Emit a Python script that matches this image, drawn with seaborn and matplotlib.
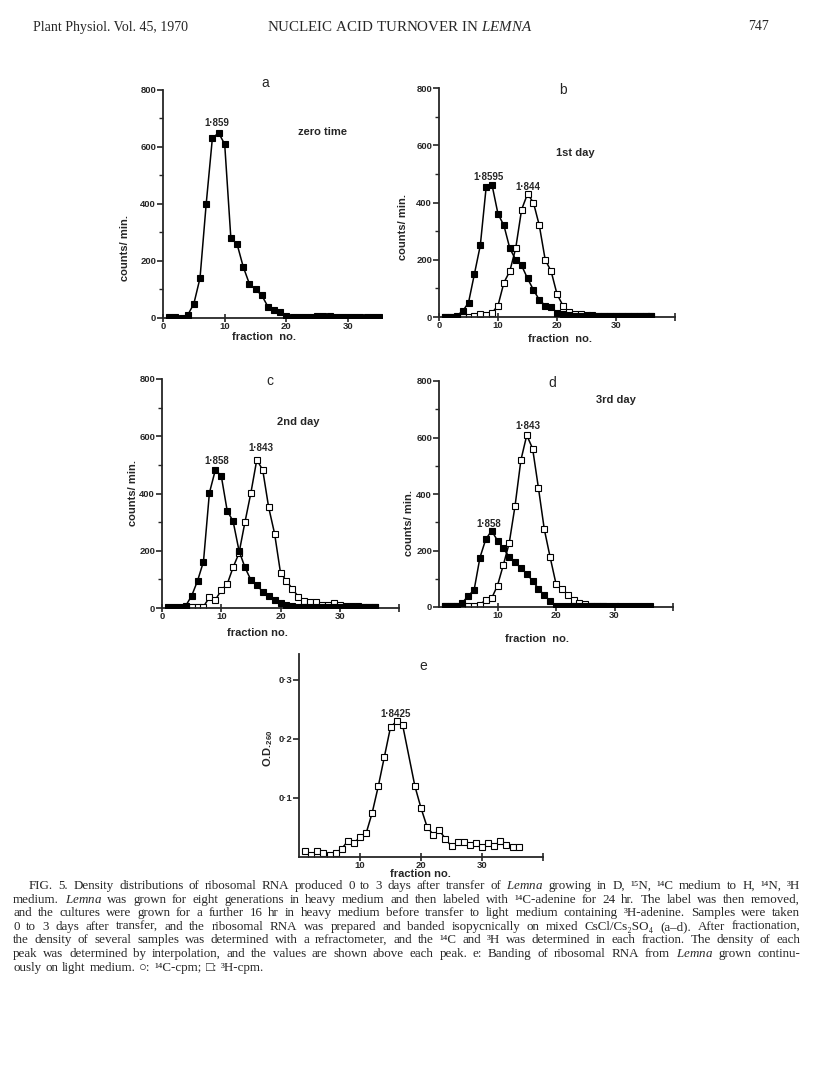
import numpy as np
import pandas as pd
import matplotlib
matplotlib.use("Agg")
import matplotlib.pyplot as plt
import seaborn as sns

sns.set_style("ticks")
plt.rcParams['font.family'] = ['Liberation Sans', 'DejaVu Sans']
plt.rcParams['mathtext.fontset'] = 'custom'
plt.rcParams['mathtext.rm'] = 'Liberation Serif'
plt.rcParams['mathtext.it'] = 'Liberation Serif:italic'
plt.rcParams['mathtext.bf'] = 'Liberation Sans:bold'

# ---- data ----
# panel a (zero time), 14C only
frac_a = list(range(1, 36))
a_c14 = [5, 5, 0, 10, 50, 140, 400, 630, 650, 610, 280, 260, 180, 120, 100, 80, 40, 28, 20, 8,
         5, 5, 5, 5, 6, 6, 6, 5, 5, 5, 5, 5, 5, 5, 5]

# panel b (1st day)
frac_b = list(range(1, 37))
b_c14 = [0, 0, 5, 20, 50, 150, 250, 455, 460, 360, 320, 240, 200, 180, 135, 95, 60, 40, 35, 15,
         10, 8, 5, 5, 5, 5, 5, 5, 5, 5, 5, 5, 5, 5, 5, 5]
b_h3 = [0, 0, 0, 0, 0, 5, 12, 8, 15, 40, 120, 160, 240, 375, 430, 400, 320, 200, 160, 80,
        40, 18, 12, 10, 8, 6, 5, 5, 5, 5, 5, 5, 5, 5, 5, 5]

# panel c (2nd day)
frac_c = list(range(1, 37))
c_c14 = [5, 5, 5, 8, 42, 95, 162, 402, 482, 462, 340, 303, 200, 142, 98, 80, 57, 43, 28, 17,
         10, 8, 5, 5, 5, 5, 5, 5, 5, 5, 5, 5, 5, 5, 5, 5]
frac_c3 = list(range(5, 37))
c_h3 = [5, 5, 5, 37, 28, 62, 83, 142, 192, 300, 402, 518, 482, 352, 260, 123, 95, 67, 40, 26,
        22, 20, 12, 10, 18, 10, 8, 6, 6, 5, 5, 5]

# panel d (3rd day)
frac_d = list(range(1, 37))
d_c14 = [5, 3, 5, 15, 40, 60, 175, 240, 270, 235, 208, 177, 158, 138, 118, 92, 65, 41, 22, 5,
         5, 4, 4, 4, 4, 4, 4, 4, 4, 4, 4, 4, 4, 4, 4, 4]
frac_d3 = list(range(1, 29))
d_h3 = [3, 3, 3, 2, 2, 2, 8, 26, 31, 76, 149, 226, 358, 520, 608, 561, 421, 275, 176, 82,
        65, 44, 24, 14, 11, 5, 4, 3]

# panel e, O.D.260
frac_e = list(range(1, 18)) + list(range(19, 37))
e_od = [0.010, 0.004, 0.010, 0.006, 0.004, 0.007, 0.014, 0.027, 0.023, 0.034, 0.040, 0.075,
        0.120, 0.170, 0.220, 0.230, 0.223, 0.120, 0.083, 0.051, 0.038, 0.045, 0.031, 0.018,
        0.025, 0.025, 0.021, 0.023, 0.017, 0.023, 0.019, 0.027, 0.020, 0.017, 0.017]

W, H = 816, 1078
fig = plt.figure(figsize=(W / 100, H / 100), dpi=100)
fig.patch.set_facecolor('white')

TICK = dict(fontsize=6.8, fontweight='bold')
BOLD = dict(fontsize=7, fontweight='bold')
LAB = dict(fontsize=8, fontweight='bold')


def px_axes(x0, x1, ytop, ybot):
    return fig.add_axes([x0 / W, 1 - ybot / H, (x1 - x0) / W, (ybot - ytop) / H])


def ftext(x, y, s, **kw):
    fig.text(x / W, 1 - y / H, s, ha='center', va='center', **kw)


def style_axes(ax, xmax, xticks, ymax=800, yticks=(0, 200, 400, 600, 800), ylabels=None,
               yminor=None, xlabels=None):
    ax.set_xlim(0, xmax)
    ax.set_ylim(0, ymax)
    ax.set_facecolor('none')
    sns.despine(ax=ax)
    for s in ('left', 'bottom'):
        ax.spines[s].set_linewidth(1.3)
    ax.set_xticks(xticks)
    ax.set_xticklabels(xlabels if xlabels is not None else [str(t) for t in xticks], **TICK)
    ax.set_yticks(yticks)
    ax.set_yticklabels(ylabels if ylabels is not None else [str(t) for t in yticks], **TICK)
    if yminor is not None:
        ax.set_yticks(yminor, minor=True)
    ax.tick_params(axis='x', direction='inout', length=6, width=1.2, pad=0)
    ax.tick_params(axis='y', which='major', direction='out', length=4, width=1.2, pad=1)
    ax.tick_params(axis='y', which='minor', direction='out', length=3, width=1.0)
    ax.set_xlabel('')
    ax.set_ylabel('')


def draw(ax, x, y, filled):
    fc = 'black' if filled else 'white'
    sns.lineplot(x=x, y=y, ax=ax, color='black', lw=1.1, marker='s', markersize=3.9,
                 markerfacecolor=fc, markeredgecolor='black', markeredgewidth=0.8,
                 errorbar=None, sort=False, zorder=3 if filled else 2)


cnt_minor = [100, 300, 500, 700]

# ---- panel a ----
ax = px_axes(163, 382, 90, 318)
draw(ax, frac_a, a_c14, True)
style_axes(ax, 35.5, [0, 10, 20, 30], yminor=cnt_minor)
ftext(265, 83, 'a', fontsize=10)
ftext(217, 123, '1·859', **BOLD)
ftext(322, 132, 'zero time', **LAB)
ftext(125, 248, 'counts/ min.', rotation=90, **LAB)
ftext(264, 337, 'fraction  no.', **LAB)

# ---- panel b ----
ax = px_axes(439, 675, 88, 317)
draw(ax, frac_b, b_h3, False)
draw(ax, frac_b, b_c14, True)
style_axes(ax, 40, [0, 10, 20, 30, 40], xlabels=['0', '10', '20', '30', ''], yminor=cnt_minor)
ftext(563, 90, 'b', fontsize=10)
ftext(575, 153, '1st day', **LAB)
ftext(488, 177, '1·8595', **BOLD)
ftext(528, 187, '1·844', **BOLD)
ftext(403, 227, 'counts/ min.', rotation=90, **LAB)
ftext(560, 339, 'fraction  no.', **LAB)

# ---- panel c ----
ax = px_axes(162, 399, 379, 608)
draw(ax, frac_c3, c_h3, False)
draw(ax, frac_c, c_c14, True)
style_axes(ax, 40, [0, 10, 20, 30, 40], xlabels=['0', '10', '20', '30', ''], yminor=cnt_minor)
ftext(270, 381, 'c', fontsize=10)
ftext(298, 422, '2nd day', **LAB)
ftext(261, 448, '1·843', **BOLD)
ftext(217, 461, '1·858', **BOLD)
ftext(133, 493, 'counts/ min.', rotation=90, **LAB)
ftext(257, 633, 'fraction no.', **LAB)

# ---- panel d ----
ax = px_axes(439, 673, 381, 607)
draw(ax, frac_d3, d_h3, False)
draw(ax, frac_d, d_c14, True)
style_axes(ax, 40, [10, 20, 30, 40], xlabels=['10', '20', '30', ''], yminor=cnt_minor)
ftext(552, 383, 'd', fontsize=10)
ftext(616, 400, '3rd day', **LAB)
ftext(528, 426, '1·843', **BOLD)
ftext(489, 524, '1·858', **BOLD)
ftext(409, 523, 'counts/ min.', rotation=90, **LAB)
ftext(537, 639, 'fraction  no.', **LAB)

# ---- panel e ----
ax = px_axes(299, 543, 654, 857)
draw(ax, frac_e, e_od, False)
style_axes(ax, 40, [10, 20, 30, 40], xlabels=['10', '20', '30', ''], ymax=0.344,
           yticks=[0.1, 0.2, 0.3], ylabels=['0·1', '0·2', '0·3'])
ftext(423, 666, 'e', fontsize=10)
ftext(396, 714, '1·8425', **BOLD)
ftext(268, 748, r'O.D.$_{\mathbf{260}}$', rotation=90, **LAB)
ftext(420, 874, 'fraction no.', **LAB)

# ---- page header ----
SERIF_FAM = ['Liberation Serif', 'DejaVu Serif']
fig.text(33 / W, 1 - 27 / H, 'Plant Physiol. Vol. 45, 1970', ha='left', va='center',
         family=SERIF_FAM, fontsize=10)
fig.text(267 / W, 1 - 27 / H, r'NUCLEIC ACID TURNOVER IN $\mathit{LEMNA}$', ha='left',
         va='center', family=SERIF_FAM, fontsize=10.8)
fig.text(769 / W, 1 - 27 / H, '747', ha='right', va='center', family=SERIF_FAM, fontsize=10)

# ---- caption (justified by spreading the words) ----
caption = [
    r'FIG. 5. Density distributions of ribosomal RNA produced 0 to 3 days after transfer of $\mathit{Lemna}$ growing in D, ¹⁵N, ¹⁴C medium to H, ¹⁴N, ³H',
    r'medium. $\mathit{Lemna}$ was grown for eight generations in heavy medium and then labeled with ¹⁴C-adenine for 24 hr. The label was then removed,',
    r'and the cultures were grown for a further 16 hr in heavy medium before transfer to light medium containing ³H-adenine. Samples were taken',
    r'0 to 3 days after transfer, and the ribosomal RNA was prepared and banded isopycnically on mixed CsCl/Cs₂SO₄ (a–d). After fractionation,',
    r'the density of several samples was determined with a refractometer, and the ¹⁴C and ³H was determined in each fraction. The density of each',
    r'peak was determined by interpolation, and the values are shown above each peak. e: Banding of ribosomal RNA from $\mathit{Lemna}$ grown continu-',
    r'ously on light medium. ○: ¹⁴C-cpm; □: ³H-cpm.',
]
cap_x0 = [29, 13, 13, 13, 13, 13, 13]
cap_x1 = 800
cap_fs = 9.4
renderer = fig.canvas.get_renderer()
for i, line in enumerate(caption):
    y = 1 - (886 + 13.6 * i) / H
    words = line.split(' ')
    objs = [fig.text(0, y, w, ha='left', va='center', family=SERIF_FAM, fontsize=cap_fs)
            for w in words]
    widths = [o.get_window_extent(renderer).width for o in objs]
    if i < len(caption) - 1:
        gap = (cap_x1 - cap_x0[i] - sum(widths)) / (len(words) - 1)
    else:
        gap = cap_fs * 1.389 * 0.3
    x = cap_x0[i]
    for o, w in zip(objs, widths):
        o.set_x(x / W)
        x += w + gap

fig.savefig('out.png', dpi=100, facecolor='white')
